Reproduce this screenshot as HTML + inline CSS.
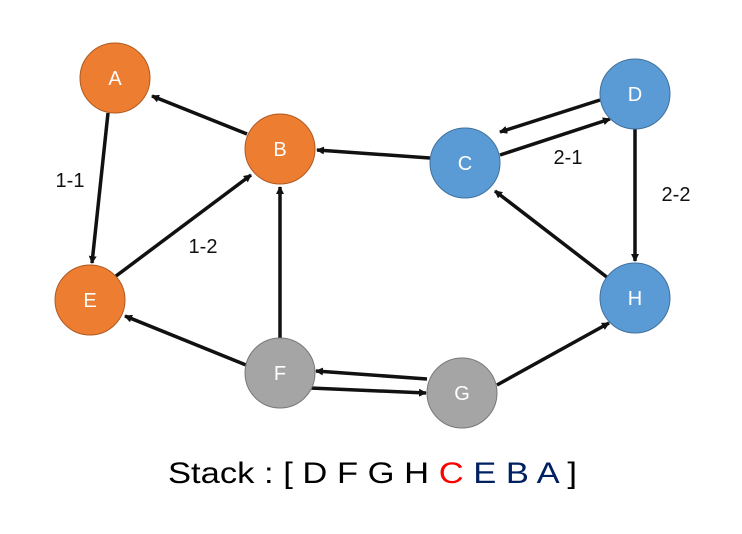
<!DOCTYPE html>
<html><head><meta charset="utf-8"><style>body{margin:0;background:#fff}svg{display:block}</style></head>
<body>
<svg width="742" height="534" viewBox="0 0 742 534" xmlns="http://www.w3.org/2000/svg" font-family="Liberation Sans, sans-serif">
<defs><marker id="ar" markerWidth="8" markerHeight="8" refX="7" refY="4" orient="auto" markerUnits="userSpaceOnUse"><path d="M0,0 L8,4 L0,8 z" fill="#111"/></marker></defs>
<g stroke="#111" stroke-width="3.5" marker-end="url(#ar)">
<line x1="247" y1="134" x2="152" y2="96"/>
<line x1="108" y1="113" x2="92" y2="263"/>
<line x1="116" y1="276" x2="251" y2="175"/>
<line x1="430" y1="158" x2="317" y2="150"/>
<line x1="600" y1="100" x2="500" y2="132"/>
<line x1="500" y1="155" x2="610" y2="119"/>
<line x1="635" y1="129" x2="635" y2="261"/>
<line x1="608" y1="278" x2="495" y2="191"/>
<line x1="280" y1="338" x2="280" y2="187"/>
<line x1="246" y1="365" x2="125" y2="316"/>
<line x1="427" y1="379" x2="316" y2="371"/>
<line x1="310" y1="388" x2="426" y2="393"/>
<line x1="497" y1="385" x2="609" y2="323"/>
</g>
<g stroke-width="1">
<circle cx="115" cy="78" r="35" fill="#ED7D31" stroke="#AE5A21"/>
<circle cx="280" cy="149" r="35" fill="#ED7D31" stroke="#AE5A21"/>
<circle cx="90" cy="300" r="35" fill="#ED7D31" stroke="#AE5A21"/>
<circle cx="465" cy="163" r="35" fill="#5B9BD5" stroke="#41719C"/>
<circle cx="635" cy="94" r="35" fill="#5B9BD5" stroke="#41719C"/>
<circle cx="635" cy="298" r="35" fill="#5B9BD5" stroke="#41719C"/>
<circle cx="280" cy="373" r="35" fill="#A5A5A5" stroke="#787878"/>
<circle cx="462" cy="393" r="35" fill="#A5A5A5" stroke="#787878"/>
</g>
<g fill="#fff" font-size="20" text-anchor="middle">
<text x="115" y="85">A</text><text x="280" y="156">B</text><text x="90" y="307">E</text>
<text x="465" y="170">C</text><text x="635" y="101">D</text><text x="635" y="305">H</text>
<text x="280" y="380">F</text><text x="462" y="400">G</text>
</g>
<g fill="#111" font-size="20" text-anchor="middle">
<text x="70" y="187">1-1</text><text x="203" y="253">1-2</text>
<text x="568" y="164">2-1</text><text x="676" y="201">2-2</text>
</g>
<text x="168" y="483" font-size="30" textLength="409" lengthAdjust="spacingAndGlyphs" fill="#000">Stack : [ D F G H <tspan fill="#f00">C</tspan> <tspan fill="#002060">E B A</tspan> ]</text>
</svg>
</body></html>
